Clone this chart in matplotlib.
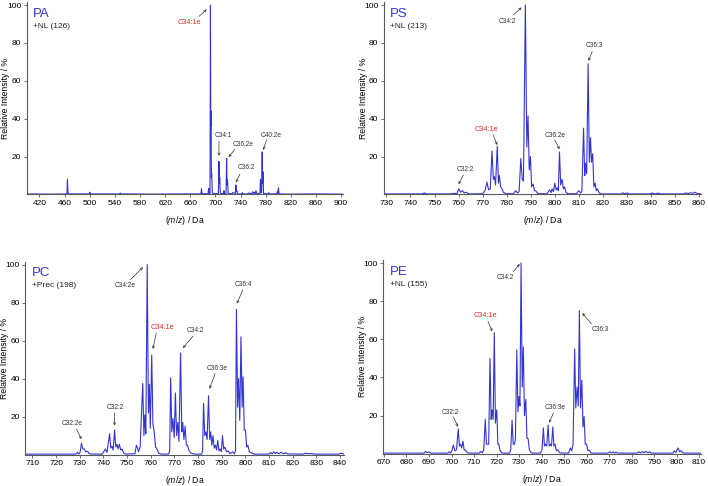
import numpy as np
import matplotlib
matplotlib.use('Agg')
import matplotlib.pyplot as plt

plt.rcParams['font.family'] = ['Liberation Sans', 'DejaVu Sans']
plt.rcParams['mathtext.fontset'] = 'custom'
plt.rcParams['mathtext.it'] = 'Liberation Sans:italic'
plt.rcParams['mathtext.rm'] = 'Liberation Sans'

# spectra: (m/z, relative intensity %)
pa_trace = [(400, 0.3), (440, 0.2), (463.8, 0.3), (464.6, 8.0), (465.3, 1.5), (466.2, 0.3),
            (499.6, 0.3), (500.3, 1.2), (501.0, 0.3), (547.8, 0.3), (548.6, 0.8), (549.4, 0.3),
            (600, 0.2), (650, 0.3), (677.0, 0.3), (677.8, 3.0), (678.6, 0.4), (688.4, 0.4),
            (689.2, 3.2), (690.0, 0.5), (691.4, 0.6), (692.1, 100), (692.6, 36), (693.1, 44),
            (693.6, 9), (694.1, 11), (695.0, 0.8), (700.0, 0.4), (704.8, 0.6), (705.6, 17.5),
            (706.3, 6), (706.9, 9), (707.8, 0.6), (712.8, 0.4), (713.6, 2.0), (714.4, 0.4),
            (716.9, 0.6), (717.8, 19), (718.5, 5), (719.2, 8), (720.2, 0.6), (726.5, 0.3),
            (727.3, 1.0), (731.6, 0.5), (732.6, 5.0), (733.4, 1.5), (734.1, 2.0), (735.0, 0.3),
            (742.0, 0.3), (743.0, 1.0), (744.0, 0.3), (751.5, 0.3), (752.5, 0.8), (758.0, 0.4),
            (759.5, 1.5), (761.0, 0.5), (762.0, 1.2), (763.5, 0.4), (764.5, 2.0), (765.5, 0.5),
            (770.8, 0.6), (771.7, 8), (772.6, 1.0), (773.5, 1.0), (774.4, 22.5), (775.0, 6),
            (775.6, 12), (776.6, 0.5), (784.0, 0.3), (785.0, 1.0), (786.0, 0.3), (797.6, 0.4),
            (798.5, 1.5), (799.3, 0.5), (800.2, 3.5), (801.0, 1.0), (802.0, 0.3), (815, 0.2),
            (860, 0.3), (903, 0.2)]

ps_trace = [(729, 0.3), (744.8, 0.3), (745.8, 0.8), (746.8, 0.3), (756, 0.3), (758.6, 0.6),
            (759.3, 0.4), (760.1, 3.0), (760.8, 1.2), (761.7, 2.0), (762.3, 0.8), (763.2, 1.2),
            (764.2, 0.3), (770.0, 0.4), (771.0, 2.0), (771.8, 6.5), (772.5, 2.5), (773.2, 3.0),
            (773.9, 23), (774.5, 8), (774.9, 9.5), (775.4, 5), (776.1, 25.5), (776.6, 6),
            (777.0, 10), (777.5, 4), (777.9, 3.5), (778.6, 1.2), (779.8, 0.4), (782.8, 0.4),
            (783.8, 2.0), (784.5, 0.8), (785.2, 1.5), (785.9, 19), (786.5, 8), (787.0, 7),
            (787.8, 100), (788.4, 25), (788.9, 41.5), (789.4, 13), (789.9, 20), (790.4, 4),
            (791.0, 5.5), (791.6, 2), (792.1, 2), (793.0, 0.4), (796.8, 0.4), (797.9, 2.5),
            (798.5, 1), (798.9, 3), (799.5, 1.5), (800.0, 6), (800.6, 2.5), (801.1, 3.5),
            (801.5, 2), (802.0, 22.5), (802.5, 5), (803.1, 8), (803.6, 3), (804.1, 4),
            (804.7, 1.2), (805.5, 0.4), (809.0, 0.4), (810.0, 2), (810.8, 0.8), (811.3, 1.5),
            (812.0, 35), (812.5, 10), (812.8, 16.5), (813.3, 11), (813.9, 69), (814.4, 17),
            (814.9, 30), (815.3, 17), (815.8, 21.5), (816.3, 4), (816.8, 6), (817.3, 2),
            (817.8, 3), (818.5, 0.8), (819.5, 0.3), (827.5, 0.3), (828.3, 0.9), (829.0, 0.4),
            (830.3, 0.8), (831.0, 0.3), (839.5, 0.3), (840.5, 0.8), (841.5, 0.3), (843, 0.7),
            (844, 0.3), (853.5, 0.3), (854.5, 0.8), (855.5, 0.5), (856.5, 0.9), (857.5, 0.6),
            (858.3, 1.2), (859.2, 0.5), (861, 0.3)]

pc_trace = [(707, 0.3), (728.3, 0.3), (729.0, 1.2), (729.6, 0.4), (730.2, 1.5), (730.7, 6.0),
            (731.3, 3.0), (731.9, 3.0), (732.5, 1.5), (733.3, 1.8), (734.0, 0.5), (735.5, 0.3),
            (739.5, 0.3), (740.3, 2.0), (740.8, 3.0), (741.5, 1.2), (742.6, 11), (743.1, 3.5),
            (743.6, 4.5), (744.1, 2.5), (744.7, 13), (745.2, 4), (745.7, 5.5), (746.2, 3),
            (746.7, 5.5), (747.3, 2.5), (747.8, 3), (748.6, 0.8), (749.5, 0.3), (753.3, 0.5),
            (753.9, 5), (754.4, 3.5), (754.8, 1.5), (755.5, 4), (756.6, 37.5), (757.1, 10),
            (757.5, 21), (757.9, 11), (758.5, 100), (759.0, 22), (759.4, 37), (759.8, 14),
            (760.4, 52.5), (760.9, 16), (761.4, 12.5), (762.0, 4), (762.5, 3.5), (763.3, 0.8),
            (764.5, 0.3), (767.5, 0.3), (768.0, 2), (768.4, 40.5), (768.9, 12), (769.4, 19),
            (769.9, 9), (770.4, 32.5), (770.9, 10), (771.4, 17), (771.9, 7), (772.6, 53.5),
            (773.1, 12), (773.5, 17), (774.0, 8), (774.5, 15), (775.0, 5), (775.5, 5),
            (776.2, 2), (777.0, 0.8), (778.5, 0.3), (781.5, 0.3), (781.9, 2), (782.3, 27),
            (782.8, 10), (783.3, 12), (783.8, 8), (784.4, 31), (784.9, 8), (785.3, 12),
            (785.8, 5), (786.3, 10), (786.8, 3.5), (787.3, 5), (787.8, 2.5), (788.3, 7.5),
            (788.8, 2), (789.3, 3), (789.8, 1.5), (790.3, 10), (790.8, 3), (791.3, 4),
            (792.0, 1.5), (792.6, 2), (793.5, 0.5), (794.5, 1.5), (795.3, 0.5), (795.8, 2),
            (796.2, 76.5), (796.7, 25), (797.1, 40), (797.6, 18), (798.1, 62), (798.6, 25),
            (799.0, 41), (799.5, 13), (800.0, 13), (800.5, 4), (801.0, 5), (801.7, 1.5),
            (802.5, 1), (803.5, 0.3), (810.0, 0.3), (810.7, 1.2), (811.3, 0.5), (812.0, 1.5),
            (812.6, 0.6), (813.3, 1.3), (814, 0.5), (815, 1.2), (816, 0.5), (817, 1.0),
            (818, 0.4), (824.5, 0.3), (825.3, 0.8), (826.5, 0.5), (828, 0.6), (829, 0.3),
            (839.5, 0.3), (840.3, 0.8), (841.5, 0.4)]

pe_trace = [(670, 0.3), (687.8, 0.3), (688.5, 1.2), (689.2, 0.5), (690.0, 0.9), (690.8, 0.3),
            (698.3, 0.3), (699.0, 1.0), (699.6, 0.4), (700.2, 1.5), (700.8, 4.5), (701.5, 1.5),
            (702.2, 2), (703.0, 13), (703.5, 4), (704.0, 5), (704.5, 3), (705.1, 6.5),
            (705.6, 2), (706.2, 2), (707.0, 0.5), (708.0, 0.3), (712.3, 0.3), (713.0, 1.2),
            (713.7, 0.5), (714.3, 2), (715.0, 18), (715.5, 5), (716.0, 5), (716.5, 5),
            (717.1, 50), (717.6, 18), (718.0, 23), (718.5, 18), (719.0, 63.5), (719.5, 16),
            (720.1, 23), (720.6, 5), (721.0, 5), (721.6, 1.5), (722.5, 0.3), (725.8, 0.3),
            (726.3, 2), (726.9, 17.5), (727.4, 5), (728.0, 5), (728.4, 8), (729.0, 54.5),
            (729.5, 22), (730.0, 30), (730.4, 25), (730.9, 100), (731.4, 35), (731.9, 56),
            (732.4, 20), (733.0, 28.5), (733.5, 8), (734.0, 8), (734.6, 2), (735.5, 0.3),
            (739.5, 0.3), (740.2, 2), (740.8, 13.5), (741.3, 4), (741.8, 5), (742.3, 4),
            (742.9, 15), (743.4, 4), (744.0, 5), (744.4, 4), (745.0, 14), (745.5, 4),
            (746.0, 5), (746.6, 1.5), (747.2, 2), (748.0, 0.5), (749.5, 0.3), (752.0, 0.3),
            (752.8, 3), (753.4, 1.5), (754.0, 5), (754.7, 55), (755.2, 24), (755.8, 35),
            (756.3, 25), (756.8, 75), (757.3, 24), (757.9, 38.5), (758.4, 14), (758.9, 19.5),
            (759.4, 5), (760.0, 5), (760.6, 1.5), (761.2, 1.8), (762.0, 0.3), (769.5, 0.3),
            (770.3, 1.0), (771.0, 0.4), (771.8, 0.9), (772.5, 0.3), (773, 0.8), (773.8, 0.3),
            (782.5, 0.3), (783.2, 1.0), (784, 0.4), (784.8, 1.1), (785.5, 0.5), (786.4, 1.2),
            (787.2, 0.5), (788, 1), (788.8, 0.3), (798.3, 0.3), (799.0, 1.5), (799.7, 0.6),
            (800.6, 3.0), (801.3, 1.0), (802.0, 1.6), (802.8, 0.4), (804, 0.3), (810.7, 0.3)]

# peak labels: (text, highlighted, text centre, arrow tail, arrow head)
pa_labels = [('C34:1e', True, (658, 91), (674, 94), (686, 97.7)),
             ('C34:1', False, (713, 31.4), (705.6, 28), (705.6, 20.4)),
             ('C36:2e', False, (744, 26.5), (731, 23.9), (721, 19.7)),
             ('C36:2', False, (749.5, 14.2), (739, 10.8), (732.6, 6.3)),
             ('C40:2e', False, (789.3, 31.4), (781.3, 28.8), (776, 23.5))]
ps_labels = [('C34:2', False, (780.4, 91.2), (782.7, 94.7), (786.2, 98.7)),
             ('C36:3', False, (816.5, 78.4), (815.6, 75.4), (814, 70.5)),
             ('C34:1e', True, (771.4, 34.4), (774.4, 31.4), (776.1, 26.1)),
             ('C36:2e', False, (800, 31.4), (800, 28.8), (802, 23.9)),
             ('C32:2', False, (763, 13.3), (762, 10.3), (760, 5.4))]
pc_labels = [('C34:2e', False, (749, 88.9), (751.4, 92.1), (756.7, 98.6)),
             ('C36:4', False, (799.2, 89.5), (798.9, 86.8), (796.4, 79.5)),
             ('C34:1e', True, (765.1, 67), (762.3, 64), (760.9, 55.6)),
             ('C34:2', False, (778.8, 65.4), (777.8, 62.3), (773.6, 56.1)),
             ('C36:3e', False, (787.9, 45.1), (787.2, 42.6), (784.8, 34.7)),
             ('C32:2', False, (745, 24.6), (744.7, 21.9), (744.7, 15.3)),
             ('C32:2e', False, (726.7, 16.5), (728.6, 13.5), (730.7, 8.2))]
pe_labels = [('C34:2', False, (724.1, 92.7), (727.5, 95.6), (730.3, 99.5)),
             ('C36:3', False, (766, 65.4), (762.1, 68.2), (758.1, 73.8)),
             ('C34:1e', True, (715.2, 72.4), (716.2, 69.4), (718.1, 64.2)),
             ('C36:3e', False, (745.9, 24), (745.3, 21.4), (743.3, 16.2)),
             ('C32:2', False, (699.6, 21.8), (700.8, 19.3), (702.9, 14.1))]

panels = [
    ('PA', '+NL (126)', pa_trace, pa_labels, (400, 903), np.arange(420, 901, 40),
     [0.0379, 0.5998, 0.4466, 0.3957]),
    ('PS', '+NL (213)', ps_trace, ps_labels, (729, 861), np.arange(730, 861, 10),
     [0.5424, 0.5998, 0.4482, 0.3957]),
    ('PC', '+Prec (198)', pc_trace, pc_labels, (707, 841.5), np.arange(710, 841, 10),
     [0.0358, 0.0644, 0.4496, 0.3970]),
    ('PE', '+NL (155)', pe_trace, pe_labels, (669.7, 810.7), np.arange(670, 811, 10),
     [0.5414, 0.0665, 0.4483, 0.3980]),
]

blue = '#3434d2'
red = '#e8262b'
grey = '#5a5a5a'

fig = plt.figure(figsize=(7.08, 4.86), dpi=100)

for name, scan, trace, labels, xlim, xticks, rect in panels:
    ax = fig.add_axes(rect)
    mz, inten = np.array(trace).T
    ax.plot(mz, inten, color=blue, lw=0.8)
    ax.set_xlim(*xlim)
    ax.set_ylim(0, 101.5)
    ax.set_xticks(xticks)
    ax.set_yticks([20, 40, 60, 80, 100])
    for s in ['top', 'right']:
        ax.spines[s].set_visible(False)
    for s in ['left', 'bottom']:
        ax.spines[s].set_color(grey)
        ax.spines[s].set_linewidth(0.8)
    ax.tick_params(labelsize=6, length=2, width=0.6, color=grey, pad=2)
    ax.set_xlabel(r'($m/z$) / Da', fontsize=6.2)
    ax.set_ylabel('Relative Intensity / %', fontsize=6.2)
    ax.xaxis.set_label_coords(0.5, -0.102)
    ax.yaxis.set_label_coords(-0.052, 0.5)
    ax.text(0.02, 0.94, name, transform=ax.transAxes, fontsize=9.5, color=blue,
            va='center', ha='left')
    ax.text(0.02, 0.875, scan, transform=ax.transAxes, fontsize=6, color='#222222',
            va='center', ha='left')
    for txt, hi, txy, tail, head in labels:
        ax.text(txy[0], txy[1], txt, fontsize=5.3 if hi else 4.7,
                color=red if hi else '#333333', ha='center', va='center')
        ax.annotate('', xy=head, xytext=tail,
                    arrowprops=dict(arrowstyle='->', lw=0.5, color='#333333',
                                    shrinkA=0, shrinkB=0, mutation_scale=4))

fig.savefig('out.png', dpi=100)
